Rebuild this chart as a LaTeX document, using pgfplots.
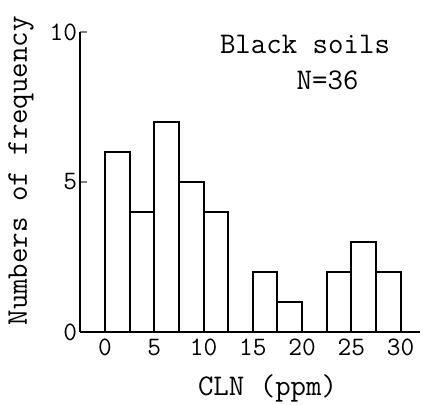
\documentclass[border=0pt]{standalone}
\usepackage{pgfplots}
\pgfplotsset{compat=1.18}
\usepackage{fontspec}
\begin{document}
\begin{tikzpicture}
% fixed frame for the whole figure
\path[use as bounding box] (-40.2pt,-36.5pt) rectangle (171.3pt,166pt);
\begin{axis}[
  anchor=south west, at={(0,0)},
  scale only axis,
  x=4.925pt, y=15pt,
  xmin=-2.5, xmax=32, ymin=0, ymax=10,
  axis lines=left,
  axis line style={-, line width=1pt},
  clip=false,
  xtick={0,5,10,15,20,25,30},
  ytick={0,5,10},
  xtick style={draw=none},
  ytick style={line width=1pt},
  tick align=inside,
  major tick length=3.5pt,
  tick label style={font=\ttfamily\fontsize{13.3}{15}\selectfont},
  yticklabel style={inner xsep=1.5pt},
  /pgf/number format/assume math mode=true,
]
\addplot[ybar interval, fill=white, draw=black, line width=1pt]
  coordinates {(0,6) (2.5,4) (5,7) (7.5,5) (10,4) (12.5,0) (15,2)
               (17.5,1) (20,0) (22.5,2) (25,3) (27.5,2) (30,2)};
\node[font=\ttfamily\fontsize{15}{17}\selectfont] at (axis cs:20.3,9.57) {Black soils};
\node[font=\ttfamily\fontsize{15}{17}\selectfont] at (axis cs:22.6,8.4) {N=36};
\node[font=\ttfamily\fontsize{15}{17}\selectfont] at (axis cs:16.5,0) [yshift=-28pt] {CLN (ppm)};
\node[font=\ttfamily\fontsize{15}{17}\selectfont, rotate=90] at (axis cs:-8.53,5.37) {Numbers of frequency};
\end{axis}
\end{tikzpicture}
\end{document}
